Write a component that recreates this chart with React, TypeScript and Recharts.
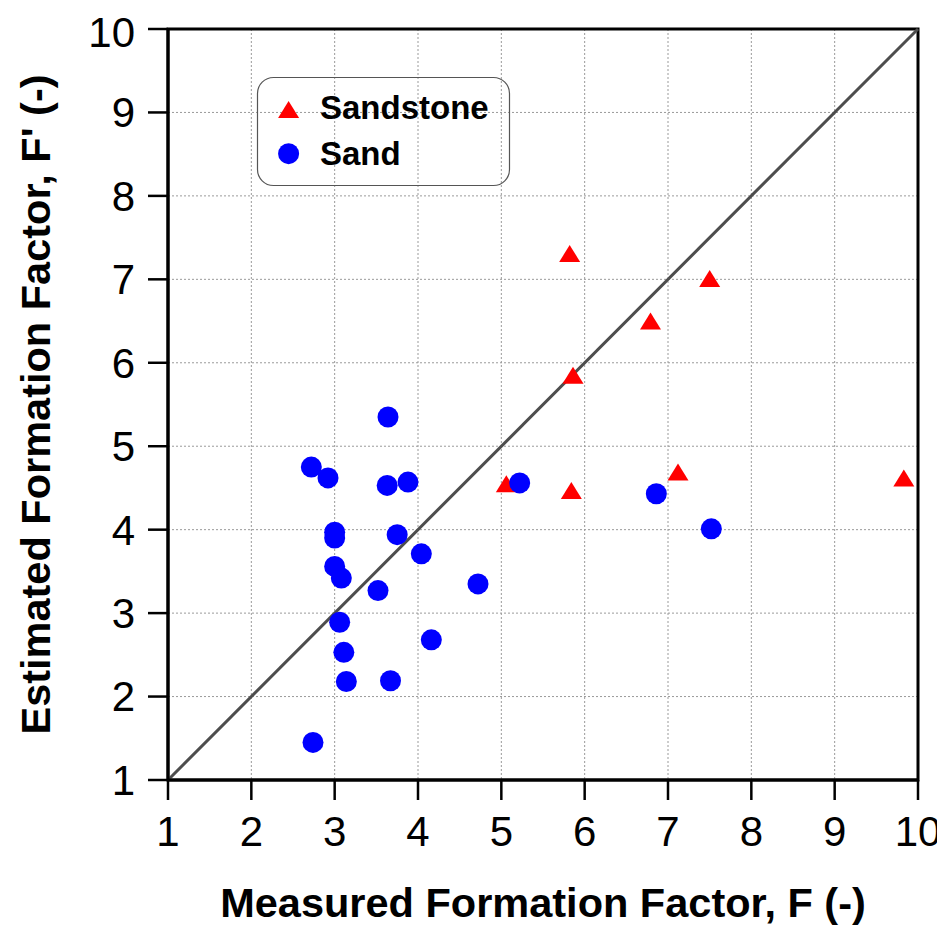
import React from 'react';
import {
  ScatterChart,
  Scatter,
  XAxis,
  YAxis,
  CartesianGrid,
  ReferenceLine,
  ReferenceArea,
  Legend,
} from 'recharts';

// Tick labels
const xTicks = [1, 2, 3, 4, 5, 6, 7, 8, 9, 10];
const yTicks = [1, 2, 3, 4, 5, 6, 7, 8, 9, 10];

// Sandstone series (measured F, estimated F')
const sandstoneX = [5.82, 7.5, 6.79, 5.86, 5.06, 5.84, 7.12, 9.83];
const sandstoneY = [7.31, 7.01, 6.5, 5.85, 4.55, 4.47, 4.69, 4.62];

// Sand series (measured F, estimated F')
const sandX = [3.64, 2.72, 2.92, 3.63, 3.88, 5.22, 3.0, 3.0, 3.75, 4.04, 3.0, 3.08, 4.72, 3.52, 3.06, 4.16, 3.11, 3.14, 3.67, 2.74, 6.86, 7.52];
const sandY = [5.35, 4.75, 4.62, 4.53, 4.57, 4.56, 3.97, 3.9, 3.94, 3.71, 3.56, 3.42, 3.35, 3.27, 2.89, 2.68, 2.53, 2.18, 2.19, 1.45, 4.43, 4.01];

// 1:1 line endpoints
const lineStart = 1;
const lineEnd = 10;

const sandstoneData = sandstoneX.map((x, i) => ({ x, y: sandstoneY[i] }));
const sandData = sandX.map((x, i) => ({ x, y: sandY[i] }));

const FONT = '"Liberation Sans", Arial, Helvetica, sans-serif';
const RED = '#ff0000';
const BLUE = '#0000ff';

const Triangle = (props: any) => {
  const { cx, cy } = props;
  if (cx == null || cy == null) return null;
  const w = 10.5;
  const h = 8.5;
  return <path d={`M${cx},${cy - h}L${cx + w},${cy + h}L${cx - w},${cy + h}Z`} fill={RED} />;
};

const Dot = (props: any) => {
  const { cx, cy } = props;
  if (cx == null || cy == null) return null;
  return <circle cx={cx} cy={cy} r={10.5} fill={BLUE} />;
};

const XLabel = (props: any) => {
  const vb = props.viewBox || {};
  const cx = vb.x + vb.width / 2;
  return (
    <text x={cx} y={909} textAnchor="middle" fontFamily={FONT} fontWeight="bold" fontSize={41.5} fill="#000">
      Measured Formation Factor, F (-)
    </text>
  );
};

const YLabel = (props: any) => {
  const vb = props.viewBox || {};
  const cy = vb.y + vb.height / 2;
  const bx = 42;
  return (
    <text
      x={bx}
      y={cy}
      transform={`rotate(-90 ${bx} ${cy})`}
      textAnchor="middle"
      fontFamily={FONT}
      fontWeight="bold"
      fontSize={41.5}
      fill="#000"
    >
      Estimated Formation Factor, F' (-)
    </text>
  );
};

const LegendBox = () => (
  <svg width={254} height={110} style={{ display: 'block', overflow: 'visible' }}>
    <rect x={0.5} y={0.5} width={252} height={108} rx={16} ry={16} fill="none" stroke="#555" strokeWidth={1.2} />
    <path d="M31.6,24 L42.1,41 L21.1,41 Z" fill={RED} />
    <circle cx={31.6} cy={76.7} r={10.5} fill={BLUE} />
    <text x={63} y={41.7} fontFamily={FONT} fontWeight="bold" fontSize={33} fill="#000">
      Sandstone
    </text>
    <text x={63} y={87.7} fontFamily={FONT} fontWeight="bold" fontSize={33} fill="#000">
      Sand
    </text>
  </svg>
);

export default function App() {
  return (
    <div style={{ width: 937, height: 922 }}>
      <ScatterChart width={937} height={922} margin={{ top: 21, right: 27, left: 0, bottom: 0 }}>
        <CartesianGrid stroke="#9a9a9a" strokeDasharray="2 2" strokeWidth={1} />
        <XAxis
          type="number"
          dataKey="x"
          domain={[1, 10]}
          ticks={xTicks}
          allowDataOverflow
          height={150}
          tickSize={20}
          tickMargin={16}
          axisLine={{ stroke: '#000', strokeWidth: 3 }}
          tickLine={{ stroke: '#000', strokeWidth: 2.5 }}
          tick={{ fill: '#000', fontSize: 42, fontFamily: FONT }}
          label={<XLabel />}
        />
        <YAxis
          type="number"
          dataKey="y"
          domain={[1, 10]}
          ticks={yTicks}
          allowDataOverflow
          width={160}
          tickSize={20}
          tickMargin={13}
          axisLine={{ stroke: '#000', strokeWidth: 3 }}
          tickLine={{ stroke: '#000', strokeWidth: 2.5 }}
          tick={{ fill: '#000', fontSize: 42, fontFamily: FONT }}
          label={<YLabel />}
        />
        <ReferenceArea x1={1} x2={10} y1={1} y2={10} fill="none" fillOpacity={0} stroke="#000" strokeWidth={3} ifOverflow="visible" />
        <Scatter name="Sandstone" data={sandstoneData} shape={<Triangle />} isAnimationActive={false} />
        <ReferenceLine
          segment={[
            { x: lineStart, y: lineStart },
            { x: lineEnd, y: lineEnd },
          ]}
          stroke="#4d4d4d"
          strokeWidth={3}
          ifOverflow="visible"
        />
        <Scatter name="Sand" data={sandData} shape={<Dot />} isAnimationActive={false} />
        <Legend
          layout="horizontal"
          align="center"
          verticalAlign="middle"
          wrapperStyle={{ left: 249, top: 69, bottom: 'auto', right: 'auto', width: 254, height: 110 }}
          content={() => <LegendBox />}
        />
      </ScatterChart>
    </div>
  );
}
